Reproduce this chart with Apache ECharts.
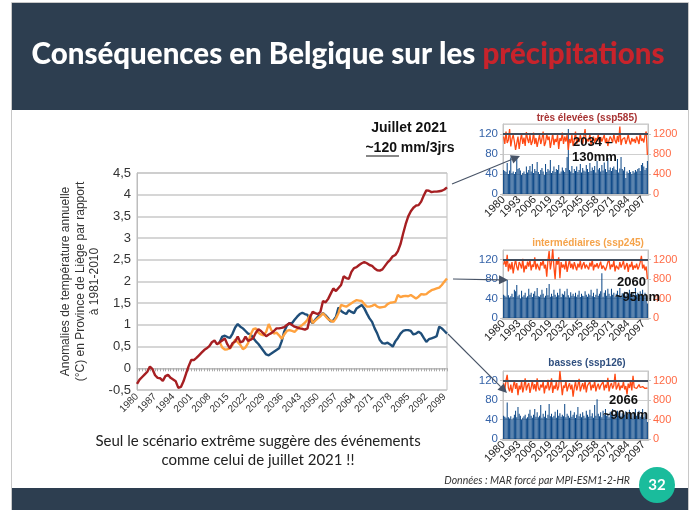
<!DOCTYPE html>
<html><head><meta charset="utf-8">
<script src="https://cdn.jsdelivr.net/npm/echarts@6/dist/echarts.min.js"></script>
<style>html,body{margin:0;padding:0;background:#fff}#c{width:696px;height:510px}</style>
</head><body><div id="c"></div>
<script>
// ---------- DATA ----------
const years = [];
for (let y = 1980; y <= 2100; y++) years.push(String(y));

// Main chart: annual temperature anomalies (°C), 1980-2100
const ssp585Anom = [
 -0.36,-0.26,-0.20,-0.14,-0.08,0.04,-0.02,-0.16,-0.22,-0.23,
 -0.29,-0.18,-0.15,-0.22,-0.26,-0.30,-0.45,-0.43,-0.30,-0.12,
 0.05,0.19,0.19,0.24,0.30,0.36,0.42,0.46,0.51,0.60,
 0.64,0.55,0.60,0.64,0.69,0.55,0.46,0.58,0.62,0.73,
 0.60,0.62,0.73,0.63,0.66,0.70,0.82,0.90,0.86,0.80,
 0.74,0.78,0.81,0.86,0.92,0.92,0.93,0.95,1.00,1.04,
 1.00,0.96,0.94,0.92,0.91,0.89,0.92,1.18,1.30,1.27,
 1.25,1.30,1.55,1.52,1.60,1.72,1.84,1.78,1.85,1.92,
 2.12,2.08,2.06,2.22,2.31,2.33,2.38,2.42,2.45,2.42,
 2.38,2.36,2.30,2.26,2.25,2.28,2.36,2.44,2.50,2.58,
 2.61,2.70,2.86,3.10,3.32,3.50,3.62,3.70,3.75,3.76,
 3.84,3.98,4.10,4.09,4.06,4.07,4.07,4.08,4.09,4.12,
 4.17];
// scenario series start in 2012 (1980-2011 shared with historical)
const ssp245Anom = [
 0.60,0.48,0.43,0.44,0.46,0.54,0.66,0.60,
 0.54,0.44,0.48,0.58,0.78,0.90,0.92,0.82,0.78,0.76,
 0.84,1.02,0.88,0.80,0.82,0.76,0.68,0.78,0.86,0.88,
 0.86,0.84,0.90,0.96,1.00,1.05,1.12,1.23,1.04,1.10,
 1.15,1.20,1.27,1.20,1.13,1.10,1.07,1.15,1.27,1.46,
 1.44,1.42,1.46,1.50,1.54,1.57,1.56,1.55,1.48,1.42,
 1.42,1.44,1.47,1.42,1.40,1.41,1.42,1.48,1.51,1.52,
 1.53,1.69,1.64,1.66,1.67,1.66,1.69,1.65,1.61,1.65,
 1.71,1.70,1.71,1.76,1.80,1.82,1.84,1.86,1.92,2.00,
 2.07];
const ssp126Anom = [
 0.60,0.73,0.75,0.72,0.70,0.80,0.94,1.02,
 0.96,0.92,0.86,0.80,0.78,0.70,0.62,0.56,0.48,0.40,
 0.32,0.30,0.34,0.38,0.42,0.46,0.62,0.85,0.98,1.04,
 1.04,1.12,1.19,1.25,1.28,1.25,1.23,1.10,1.04,1.12,
 1.19,1.22,1.27,1.22,1.15,1.08,1.10,1.18,1.40,1.32,
 1.28,1.25,1.34,1.30,1.27,1.38,1.42,1.46,1.38,1.26,
 1.15,1.07,0.92,0.80,0.65,0.58,0.57,0.59,0.55,0.50,
 0.62,0.70,0.80,0.86,0.88,0.88,0.86,0.78,0.80,0.84,
 0.80,0.70,0.61,0.67,0.69,0.71,0.74,0.96,0.92,0.86,
 0.80];
const scenarioStart = 2012;

// Small charts: max 3-day precipitation (mm, bars) and annual precipitation (mm, line)
const ssp585Max3d = [
 48,46,44,62,40,47,73,42,45,40, 44,75,50,52,47,38,42,45,40,55,
 43,48,56,45,60,42,50,46,64,44, 40,48,52,45,38,60,44,50,47,68,
 42,46,55,44,50,48,58,41,45,53, 47,44,52,74,130,48,45,56,42,50,
 46,55,44,48,60,43,52,47,45,58, 50,44,62,46,53,48,56,43,66,49,
 52,45,58,47,63,50,44,72,48,53, 46,52,55,49,48,70,43,51,74,50,
 47,54,32,45,42,48,44,40,46,43, 48,45,50,52,46,58,62,55,48,52, 66];
const ssp585Annual = [
 1150,1000,1250,1020,1080,1300,950,1100,1180,1050, 880,1020,1150,900,1080,1200,1000,1130,960,1240,
 1100,1020,1180,980,1050,1230,1000,1120,940,1070, 1180,1000,1100,1250,960,1030,1200,1080,1150,920,
 1060,1210,980,1100,1040,1180,900,1120,1060,1230, 1000,1150,1050,1190,880,1100,1020,1180,960,1080,
 1250,1000,1120,1040,1180,1080,1000,1150,1300,1020, 1100,1050,1200,980,1080,1150,1020,1120,1060,1200,
 1000,1140,1050,1090,1180,1020,1120,960,1080,1150, 1100,1030,1200,1070,1010,1160,1040,1350,980,1090,
 1050,1130,1000,1080,1190,1060,990,1120,1050,1100, 1020,1150,1080,1000,1220,1060,1110,1030,1180,1250, 780];
const ssp245Max3d = [
 48,46,44,78,47,42,45,50,43,58, 55,68,45,48,40,56,44,47,52,42,
 45,60,48,52,43,50,55,46,62,45, 44,48,58,50,42,46,62,47,70,44,
 50,45,58,48,44,52,47,60,43,50, 48,55,44,60,47,42,53,46,50,45,
 52,44,48,56,43,50,46,45,55,48, 44,50,47,58,45,52,43,48,60,46,
 50,55,92,44,52,57,46,60,50,45, 60,48,52,44,50,56,47,62,45,51,
 48,54,46,52,44,58,50,47,53,45, 62,48,52,46,55,50,58,47,52,45, 30];
const ssp245Annual = [
 1100,1180,1050,1300,960,1120,1000,1150,920,1080, 1200,1050,980,1150,1100,1020,1220,940,1080,1010,
 1160,1060,1200,980,1100,1050,1250,1000,1120,1050, 980,1150,1080,1200,1020,1100,850,1180,1380,1000,
 1150,1420,1050,800,1200,1100,1250,820,1150,1040, 1100,1000,1180,950,1080,1200,1030,1120,1000,1150,
 1060,980,1120,1040,1180,1000,1090,1150,1020,1100, 1080,1000,1140,1060,1200,980,1100,1050,1130,1020,
 1090,1160,1010,1080,1120,980,1060,1150,1200,1000, 1100,1050,1180,960,1080,1120,1000,1150,1040,1100,
 1180,1000,1070,1130,950,1100,1050,1160,990,1080, 1030,1120,1000,1060,1150,1280,1020,1100,980,1060, 800];
const ssp126Max3d = [
 48,46,44,75,45,42,47,40,44,50, 58,45,66,52,48,40,44,47,50,42,
 45,52,60,48,44,50,62,46,55,45, 48,70,44,52,46,58,43,50,72,47,
 52,45,48,56,44,60,48,53,46,50, 47,72,45,52,48,44,58,46,50,55,
 43,50,66,47,52,45,55,48,44,58, 50,46,60,47,53,44,70,48,82,52,
 47,55,45,58,50,62,48,52,45,56, 50,62,46,52,44,58,48,55,47,53,
 45,50,57,46,52,60,48,44,54,47, 62,48,52,58,46,50,62,45,53,48, 35];
const ssp126Annual = [
 1150,1000,1200,1320,1050,980,1120,950,1080,1200, 1030,1150,900,1100,1020,1180,960,1080,1250,1000,
 1100,1150,950,1060,1200,1020,1130,980,1250,1050, 1000,1120,1060,1180,940,1100,1040,1220,1000,1080,
 1250,950,1100,1030,1180,1000,1080,1400,1150,900, 1100,1050,1200,980,1080,1150,1020,1120,870,1060,
 1180,1000,1100,1240,980,1080,1150,1020,1190,960, 1100,1060,1180,1000,1120,1050,1200,980,1080,1140,
 1020,1100,1060,1180,1000,1120,1050,1260,980,1100, 1150,1040,1100,1340,1020,1080,1160,1000,1100,1050,
 1180,1020,1090,920,1140,1050,1200,1000,1300,1060, 1100,1040,1080,1120,1060,1020,1080,1100,1040,1060, 1050];

const mainYTicks = {min: -0.5, max: 4.5, interval: 0.5};
const smallLeftTicks = {min: 0, max: 140, interval: 40};
const smallRightTicks = {min: 0, max: 1400, interval: 400};
const thresholdMm = 120;

// ---------- CHART ----------
const pad = new Array(scenarioStart - 1980).fill(null);
const chart = echarts.init(document.getElementById('c'), null, {renderer: 'canvas'});
const FONT = 'Liberation Sans, Arial, sans-serif';
const NAVY = '#2d3e50';

const grids = [
  {left: 137, top: 173, width: 310, height: 217, show: true, borderColor: '#bdbdbd', borderWidth: 1, outerBoundsMode: 'none'}
];
const xAxes = [{
  type: 'category', gridIndex: 0, data: years, boundaryGap: false,
  axisLine: {lineStyle: {color: '#bdbdbd'}},
  axisTick: {show: true, interval: 0, length: 3, lineStyle: {color: '#aaa'}},
  axisLabel: {interval: 6, rotate: 45, fontSize: 10, color: '#333', fontFamily: FONT, margin: 5}
}];
const yAxes = [{
  type: 'value', gridIndex: 0, min: mainYTicks.min, max: mainYTicks.max, interval: mainYTicks.interval,
  axisLine: {show: true, lineStyle: {color: '#bdbdbd'}},
  axisTick: {show: false},
  axisLabel: {fontSize: 13, color: '#333', fontFamily: FONT, margin: 6, formatter: v => String(v).replace('.', ',')},
  splitLine: {lineStyle: {color: '#c8c8c8', width: 1.5}},
  name: 'Anomalies de température annuelle\n(°C) en Province de Liège par rapport\nà 1981-2010',
  nameLocation: 'middle', nameRotate: 90, nameGap: 35,
  nameTextStyle: {fontSize: 12, color: '#333', fontFamily: FONT, lineHeight: 14.5, align: 'center'}
}];
const series = [
  {type: 'line', xAxisIndex: 0, yAxisIndex: 0, data: pad.concat(ssp126Anom), symbol: 'none',
   lineStyle: {color: '#1f4e79', width: 2.4}, z: 3},
  {type: 'line', xAxisIndex: 0, yAxisIndex: 0, data: pad.concat(ssp245Anom), symbol: 'none',
   lineStyle: {color: '#ffa23f', width: 2.4}, z: 3},
  {type: 'line', xAxisIndex: 0, yAxisIndex: 0, data: ssp585Anom, symbol: 'none',
   lineStyle: {color: '#a61f22', width: 2.4}, z: 4}
];

function addSmall(top, height, bars, line) {
  const gi = grids.length;
  grids.push({left: 503, top: top, width: 145, height: height, show: true, borderColor: '#c4c4c4', borderWidth: 1, outerBoundsMode: 'none'});
  xAxes.push({
    type: 'category', gridIndex: gi, data: years,
    axisLine: {lineStyle: {color: '#c4c4c4', width: 3}},
    axisTick: {show: false},
    axisLabel: {interval: 12, rotate: 45, fontSize: 11, color: '#222', fontFamily: FONT, margin: 4}
  });
  const yl = yAxes.length;
  yAxes.push({
    type: 'value', gridIndex: gi, position: 'left', min: smallLeftTicks.min, max: smallLeftTicks.max, interval: smallLeftTicks.interval,
    axisLine: {show: true, lineStyle: {color: '#c4c4c4'}},
    axisTick: {show: true, length: 3, lineStyle: {color: '#c4c4c4'}},
    axisLabel: {fontSize: 11.5, color: '#3563a8', fontFamily: FONT, margin: 5, showMaxLabel: false},
    splitLine: {lineStyle: {color: '#cfcfcf'}}
  });
  yAxes.push({
    type: 'value', gridIndex: gi, position: 'right', min: smallRightTicks.min, max: smallRightTicks.max, interval: smallRightTicks.interval,
    axisLine: {show: true, lineStyle: {color: '#c4c4c4'}},
    axisTick: {show: true, length: 3, lineStyle: {color: '#c4c4c4'}},
    axisLabel: {fontSize: 11, color: '#ff6a45', fontFamily: FONT, margin: 5, showMaxLabel: false, formatter: v => String(v)},
    splitLine: {show: false}
  });
  series.push({
    type: 'bar', xAxisIndex: gi, yAxisIndex: yl, data: bars, barWidth: '82%',
    itemStyle: {color: '#064384'}, z: 2,
    markLine: {silent: true, symbol: 'none', label: {show: false},
      lineStyle: {color: '#404c5c', width: 2, type: 'solid'}, data: [{yAxis: thresholdMm}]}
  });
  series.push({
    type: 'line', xAxisIndex: gi, yAxisIndex: yl + 1, data: line, symbol: 'none',
    lineStyle: {color: '#ff4a14', width: 1.3}, z: 3
  });
}
addSmall(124, 70, ssp585Max3d, ssp585Annual);
addSmall(250, 68, ssp245Max3d, ssp245Annual);
addSmall(371, 68, ssp126Max3d, ssp126Annual);

function arrow(x1, y1, x2, y2) {
  const a = Math.atan2(y2 - y1, x2 - x1), L = 9, W = 4.5;
  const bx = x2 - L * Math.cos(a), by = y2 - L * Math.sin(a);
  return [
    {type: 'line', shape: {x1: x1, y1: y1, x2: bx, y2: by}, style: {stroke: '#475366', lineWidth: 1.1}, z: 20},
    {type: 'polygon', shape: {points: [[x2, y2], [bx + W * Math.sin(a), by - W * Math.cos(a)], [bx - W * Math.sin(a), by + W * Math.cos(a)]]},
     style: {fill: '#475366'}, z: 20}
  ];
}

const txt = (x, y, text, style) => ({type: 'text', x: x, y: y, z: 30, style: Object.assign({text: text, fontFamily: FONT}, style)});
const bold = {fontWeight: 'bold', fontSize: 13, fill: '#111', textVerticalAlign: 'middle'};

const graphic = [
  {type: 'rect', shape: {x: 11.5, y: 2.5, width: 677, height: 520}, style: {fill: '#fff', stroke: '#c8c8c8', lineWidth: 1}, z: -10},
  {type: 'rect', shape: {x: 12, y: 3, width: 676, height: 107}, style: {fill: NAVY}, z: 1},
  {type: 'text', x: 348, y: 54, z: 2, style: {
    text: '{w|Conséquences en Belgique sur les }{r|précipitations}',
    textAlign: 'center', textVerticalAlign: 'middle',
    rich: {
      w: {fill: '#ffffff', fontSize: 29.5, fontWeight: 900, fontFamily: 'Lato, Open Sans, sans-serif'},
      r: {fill: '#c8232b', fontSize: 29.5, fontWeight: 900, fontFamily: 'Lato, Open Sans, sans-serif'}
    }}},
  {type: 'rect', shape: {x: 12, y: 488, width: 676, height: 22}, style: {fill: NAVY}, z: 1},
  {type: 'circle', shape: {cx: 657, cy: 485, r: 18}, style: {fill: '#1abc9c'}, z: 3},
  {type: 'text', x: 657, y: 485, z: 4, style: {text: '32', fill: '#fff', fontSize: 15, fontWeight: 'bold', fontFamily: 'Lato, sans-serif', textAlign: 'center', textVerticalAlign: 'middle'}},
  {type: 'text', x: 630, y: 481, z: 4, style: {text: 'Données : MAR forcé par MPI-ESM1-2-HR', fill: '#333', fontSize: 10.5, fontStyle: 'italic', fontFamily: 'Lato, sans-serif', textAlign: 'right', textVerticalAlign: 'middle'}},
  {type: 'text', x: 258, y: 451, z: 4, style: {text: 'Seul le scénario extrême suggère des événements\ncomme celui de juillet 2021 !!', fill: '#222', fontSize: 15, lineHeight: 19, fontFamily: 'Lato, sans-serif', textAlign: 'center', textVerticalAlign: 'middle'}},
  txt(409, 128, 'Juillet 2021', {fontWeight: 'bold', fontSize: 14, fill: '#111', textAlign: 'center', textVerticalAlign: 'middle'}),
  txt(410, 148, '~120 mm/3jrs', {fontWeight: 'bold', fontSize: 14, fill: '#111', textAlign: 'center', textVerticalAlign: 'middle'}),
  {type: 'line', shape: {x1: 366, y1: 156, x2: 399, y2: 156}, style: {stroke: '#111', lineWidth: 1.2}, z: 30},
  txt(587, 118, 'très élevées (ssp585)', {fontWeight: 'bold', fontSize: 10, fill: '#a83434', textAlign: 'center', textVerticalAlign: 'middle'}),
  txt(588, 243, 'intermédiaires (ssp245)', {fontWeight: 'bold', fontSize: 10, fill: '#f5a34a', textAlign: 'center', textVerticalAlign: 'middle'}),
  txt(587, 363, 'basses (ssp126)', {fontWeight: 'bold', fontSize: 10, fill: '#2f4f7f', textAlign: 'center', textVerticalAlign: 'middle'}),
  txt(573, 142, '2034 –', bold),
  txt(572, 157, '130mm', bold),
  txt(617, 282, '2060', bold),
  txt(615, 297, '~95mm', bold),
  txt(609, 400, '2066', bold),
  txt(603, 415, '~90mm', bold)
].concat(arrow(452, 184, 520, 156), arrow(453, 279, 508, 280), arrow(448, 334, 507, 393));

chart.setOption({
  animation: false,
  backgroundColor: '#fff',
  grid: grids, xAxis: xAxes, yAxis: yAxes, series: series, graphic: graphic
});
</script></body></html>
